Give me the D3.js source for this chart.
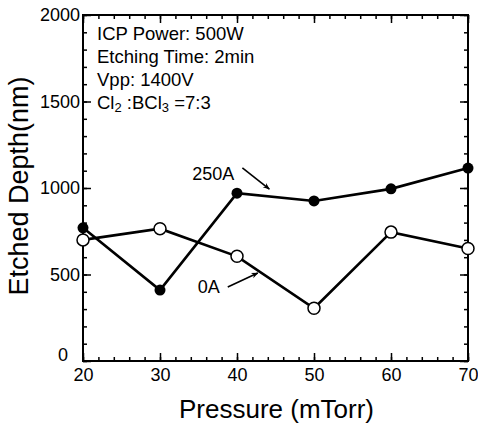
<!DOCTYPE html>
<html>
<head>
<meta charset="utf-8">
<script src="https://cdn.jsdelivr.net/npm/d3@7"></script>
<style>
body { margin: 0; background: #fff; }
svg { display: block; font-family: "Liberation Sans", Arial, sans-serif; }
.axis path { display: none; }
.axis line { stroke: #000; stroke-width: 1.5; }
.axis text { font-size: 18px; fill: #000; }
</style>
</head>
<body>
<div id="chart"></div>
<script>
const pressure = [20, 30, 40, 50, 60, 70];
const depth250A = [770, 410, 970, 925, 995, 1115];
const depth0A = [700, 765, 605, 305, 745, 650];
const xTicks = [20, 30, 40, 50, 60, 70];
const yTicks = [0, 500, 1000, 1500, 2000];
const conditions = ["ICP Power: 500W", "Etching Time: 2min", "Vpp: 1400V"];

const W = 478, H = 425;
const M = { left: 83, right: 10, top: 15, bottom: 64 };
const svg = d3.select("#chart").append("svg").attr("width", W).attr("height", H);
const x = d3.scaleLinear().domain([20, 70]).range([M.left, W - M.right]);
const y = d3.scaleLinear().domain([0, 2000]).range([H - M.bottom, M.top]);

svg.append("defs").append("marker").attr("id", "arr").attr("viewBox", "0 0 10 10")
  .attr("refX", 9).attr("refY", 5).attr("markerWidth", 9).attr("markerHeight", 7)
  .attr("markerUnits", "userSpaceOnUse").attr("orient", "auto")
  .append("path").attr("d", "M0,1 L10,5 L0,9 L3,5 Z").attr("fill", "#000");

// minor + major ticks, inward on all four sides
const xMinor = d3.range(20, 71, 2), yMinor = d3.range(0, 2001, 100);
function ticks(axisFn, scale, vals, size, g, tr) {
  g.append("g").attr("class", "axis").attr("transform", tr)
    .call(axisFn(scale).tickValues(vals).tickSize(size).tickFormat(""));
}
const bot = H - M.bottom, rt = W - M.right;
ticks(d3.axisBottom, x, xMinor, -4, svg, `translate(0,${bot})`);
ticks(d3.axisTop, x, xMinor, -4, svg, `translate(0,${M.top})`);
ticks(d3.axisLeft, y, yMinor, -4, svg, `translate(${M.left},0)`);
ticks(d3.axisRight, y, yMinor, -4, svg, `translate(${rt},0)`);
ticks(d3.axisBottom, x, xTicks, -8, svg, `translate(0,${bot})`);
ticks(d3.axisTop, x, xTicks, -8, svg, `translate(0,${M.top})`);
ticks(d3.axisLeft, y, yTicks, -8, svg, `translate(${M.left},0)`);
ticks(d3.axisRight, y, yTicks, -8, svg, `translate(${rt},0)`);

svg.append("g").attr("class", "axis").attr("transform", `translate(0,${bot})`)
  .call(d3.axisBottom(x).tickValues(xTicks).tickSize(0).tickPadding(4).tickFormat(d3.format("d")))
  .selectAll("text").attr("dy", "0.9em");
svg.append("g").attr("class", "axis").attr("transform", `translate(${M.left},0)`)
  .call(d3.axisLeft(y).tickValues(yTicks).tickSize(0).tickPadding(3).tickFormat(d3.format("d")))
  .selectAll("text").filter(d => d === 0).attr("dx", -12).attr("dy", "-0.05em");

svg.append("rect").attr("x", M.left).attr("y", M.top).attr("width", rt - M.left).attr("height", bot - M.top)
  .attr("fill", "none").attr("stroke", "#000").attr("stroke-width", 2);

// series
const line = d3.line().x((d, i) => x(pressure[i])).y(d => y(d));
[depth0A, depth250A].forEach(s => svg.append("path").attr("d", line(s))
  .attr("fill", "none").attr("stroke", "#000").attr("stroke-width", 2.6));
svg.selectAll("circle.a0").data(depth0A).join("circle").attr("class", "a0")
  .attr("cx", (d, i) => x(pressure[i])).attr("cy", d => y(d)).attr("r", 6)
  .attr("fill", "#fff").attr("stroke", "#000").attr("stroke-width", 1.5);
svg.selectAll("circle.a250").data(depth250A).join("circle").attr("class", "a250")
  .attr("cx", (d, i) => x(pressure[i])).attr("cy", d => y(d)).attr("r", 5.5).attr("fill", "#000");

// annotations
const notes = [
  { t: "250A", tx: 34.2, ty: 1046, x1: 40.7, y1: 1116, x2: 44.2, y2: 994 },
  { t: "0A", tx: 34.9, ty: 393, x1: 38.8, y1: 428, x2: 42.7, y2: 509 }
];
notes.forEach(n => {
  svg.append("text").attr("x", x(n.tx)).attr("y", y(n.ty)).attr("font-size", 18).text(n.t);
  svg.append("line").attr("x1", x(n.x1)).attr("y1", y(n.y1)).attr("x2", x(n.x2)).attr("y2", y(n.y2))
    .attr("stroke", "#000").attr("stroke-width", 1.6).attr("marker-end", "url(#arr)");
});

const info = svg.append("g").attr("font-size", 18.5);
conditions.forEach((c, i) => info.append("text").attr("x", M.left + 14).attr("y", 40 + i * 23).text(c));
const gas = info.append("text").attr("x", M.left + 14).attr("y", 109);
gas.append("tspan").text("Cl");
gas.append("tspan").attr("font-size", 13).attr("dy", 3).text("2");
gas.append("tspan").attr("dy", -3).text(" :BCl");
gas.append("tspan").attr("font-size", 13).attr("dy", 3).text("3");
gas.append("tspan").attr("dy", -3).text(" =7:3");

svg.append("text").attr("x", (M.left + rt) / 2 + 1).attr("y", 418).attr("text-anchor", "middle")
  .attr("font-size", 26).text("Pressure (mTorr)");
svg.append("text").attr("transform", `translate(28,186) rotate(-90)`).attr("text-anchor", "middle")
  .attr("font-size", 27).text("Etched Depth(nm)");
</script>
</body>
</html>
